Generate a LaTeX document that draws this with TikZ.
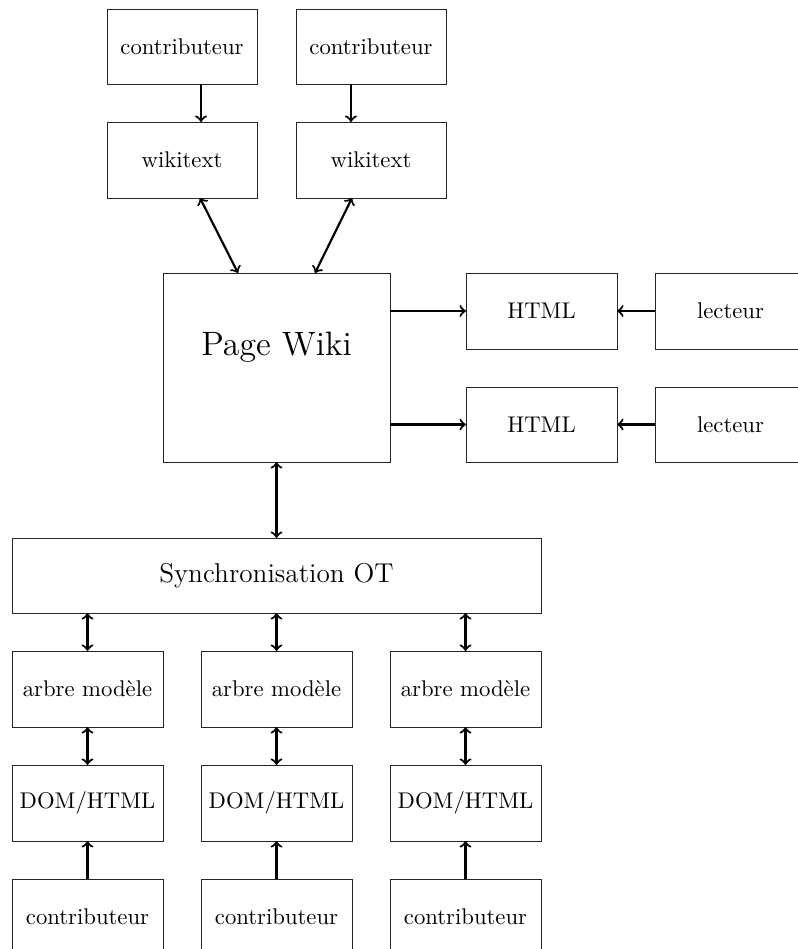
\documentclass[tikz,border=0pt]{standalone}
\usetikzlibrary{calc}
\def\u{0.4405pt}
\tikzset{
  box/.style={draw=black!85, line width=0.4pt, fill=white, inner sep=0pt, outer sep=0pt,
    minimum width={151*\u}, minimum height={76*\u}, font=\normalsize},
  link/.style={line width=0.95pt},
}
\begin{document}
\begin{tikzpicture}[x=\u, y=-\u]
\useasboundingbox (0,0) rectangle (798,949);
\clip (0,0) rectangle (798,949);
% top
\node[box, minimum width={150*\u}, minimum height={75*\u}] (c1) at (182,46.5) {contributeur};
\node[box, minimum width={150*\u}, minimum height={75*\u}] (c2) at (371,46.5) {contributeur};
\node[box, minimum width={150*\u}] (w1) at (182,160) {wikitext};
\node[box, minimum width={150*\u}] (w2) at (371,160) {wikitext};
% page wiki
\node[box, minimum width={227*\u}, minimum height={189*\u}] (pw) at (276.5,367.5) {};
\node[font=\fontsize{14.9}{18}\selectfont, inner sep=0pt] (pwt) at (276.5,347) {Page Wiki};
% right
\node[box] (h1) at (541.5,311) {HTML};
\node[box] (l1) at (730.5,311) {lecteur};
\node[box, minimum height={75*\u}] (h2) at (541.5,424.5) {HTML};
\node[box, minimum height={75*\u}] (l2) at (730.5,424.5) {lecteur};
% sync
\node[box, minimum width={529*\u}, minimum height={75*\u}, font=\large] (sync) at (276.5,575.5) {Synchronisation OT};
% columns
\foreach \i/\x in {1/87.5,2/276.5,3/465.5}{
  \node[box] (a\i) at (\x,689) {arbre mod\`ele};
  \node[box] (d\i) at (\x,803) {DOM/HTML};
  \node[box] (b\i) at (\x,917) {contributeur};
}
% arrows
\draw[link,->] ([xshift={19*\u}]c1.south) -- ([xshift={19*\u}]w1.north);
\draw[link,->] ([xshift={-20*\u}]c2.south) -- ([xshift={-20*\u}]w2.north);
\draw[link,<->] ([xshift={18*\u}]w1.south) -- ([xshift={-38.5*\u}]pw.north);
\draw[link,<->] ([xshift={-19*\u}]w2.south) -- ([xshift={38.5*\u}]pw.north);
\draw[link,->] (pw.east |- h1.west) -- (h1.west);
\draw[link,->] (pw.east |- h2.west) -- (h2.west);
\draw[link,->] (l1.west) -- (h1.east);
\draw[link,->] (l2.west) -- (h2.east);
\draw[link,<->] (pw.south) -- (sync.north);
\foreach \i in {1,2,3}{
  \draw[link,<->] (sync.south -| a\i.north) -- (a\i.north);
  \draw[link,<->] (a\i.south) -- (d\i.north);
  \draw[link,->] (b\i.north) -- (d\i.south);
}
\end{tikzpicture}
\end{document}
